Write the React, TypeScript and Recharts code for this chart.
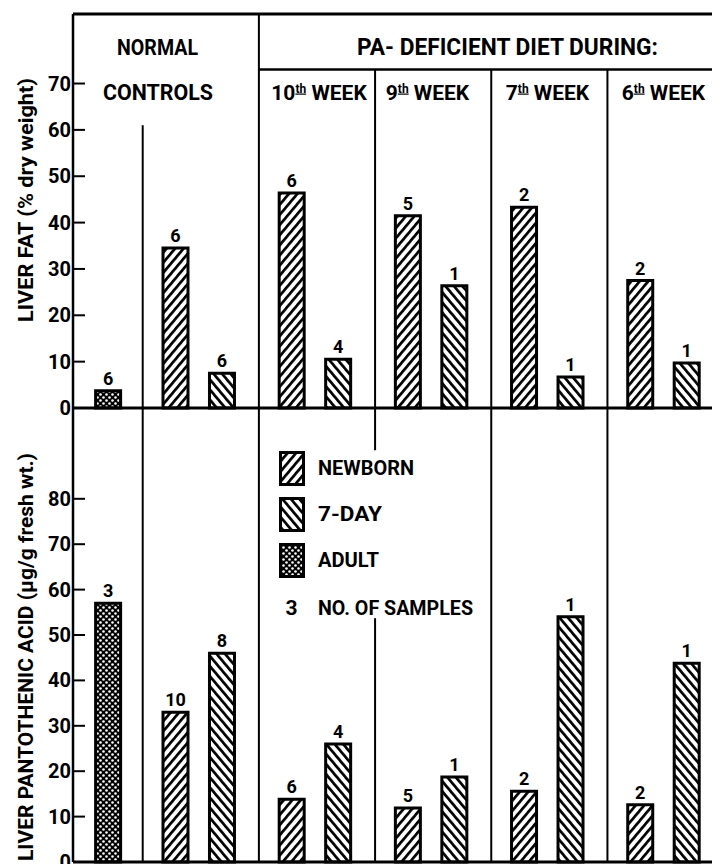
import React from 'react';
import { BarChart, Bar, XAxis, YAxis, ReferenceLine, LabelList, Legend } from 'recharts';

// column groups (controls + PA-deficient weeks)
const weekLabels = ['10', '9', '7', '6'];

// liver fat, % dry weight
const fatAdult = 3.7;
const fatAdultN = 6;
const fatNewborn = [34.5, 46.4, 41.5, 43.3, 27.5];
const fatNewbornN = [6, 6, 5, 2, 2];
const fatSevenDay = [7.5, 10.5, 26.4, 6.7, 9.7];
const fatSevenDayN = [6, 4, 1, 1, 1];

// liver pantothenic acid, ug/g fresh wt.
const paAdult = 57;
const paAdultN = 3;
const paNewborn = [33, 13.8, 11.9, 15.6, 12.6];
const paNewbornN = [10, 6, 5, 2, 2];
const paSevenDay = [46, 26, 18.7, 54, 43.8];
const paSevenDayN = [8, 4, 1, 1, 1];

const fatTicks = [0, 10, 20, 30, 40, 50, 60, 70];
const paTicks = [0, 10, 20, 30, 40, 50, 60, 70, 80];

const FONT = "Roboto, 'DejaVu Sans', sans-serif";
const X_MAX = 27.5;

const buildRows = (
  adult: number,
  adultN: number,
  newborn: number[],
  newbornN: number[],
  seven: number[],
  sevenN: number[]
) => {
  const rows: any[] = [{ x: 1.5, adult, adultN }];
  newborn.forEach((v, i) => {
    const start = 3 + 5 * i;
    rows.push({ x: start + 1.4, newborn: v, newbornN: newbornN[i] });
    rows.push({ x: start + 3.4, seven: seven[i], sevenN: sevenN[i] });
  });
  return rows;
};

const fatData = buildRows(fatAdult, fatAdultN, fatNewborn, fatNewbornN, fatSevenDay, fatSevenDayN);
const paData = buildRows(paAdult, paAdultN, paNewborn, paNewbornN, paSevenDay, paSevenDayN);
const xTicks = fatData.map((d) => d.x);

const Patterns = () => (
  <defs>
    <pattern id="hatchNewborn" width="6.5" height="6.5" patternUnits="userSpaceOnUse" patternTransform="rotate(40)">
      <rect width="6.5" height="6.5" fill="#fff" />
      <rect width="2.7" height="6.5" fill="#000" />
    </pattern>
    <pattern id="hatchSeven" width="6.5" height="6.5" patternUnits="userSpaceOnUse" patternTransform="rotate(-40)">
      <rect width="6.5" height="6.5" fill="#fff" />
      <rect width="2.7" height="6.5" fill="#000" />
    </pattern>
    <pattern id="dotsAdult" width="6" height="6" patternUnits="userSpaceOnUse">
      <rect width="6" height="6" fill="#000" />
      <circle cx="1.5" cy="1.5" r="1.3" fill="#fff" />
      <circle cx="4.5" cy="4.5" r="1.3" fill="#fff" />
    </pattern>
  </defs>
);

const YTick = (props: any) => {
  const { x, y, payload } = props;
  return (
    <g>
      {payload.value !== 0 && <line x1={x} x2={x + 12} y1={y} y2={y} stroke="#000" strokeWidth={2} />}
      <text x={x - 2} y={y + 7} textAnchor="end" fontFamily={FONT} fontWeight={700} fontSize={20} fill="#000">
        {payload.value}
      </text>
    </g>
  );
};

const labelStyle = { fontFamily: FONT, fontWeight: 700, fontSize: 18, fill: '#000' };

const series = [
  { key: 'newborn', name: 'NEWBORN', fill: 'url(#hatchNewborn)', len: 96 },
  { key: 'seven', name: '7-DAY', fill: 'url(#hatchSeven)', len: 64 },
  { key: 'adult', name: 'ADULT', fill: 'url(#dotsAdult)', len: 61 },
];

const renderBars = () =>
  series.map((s) => (
    <Bar
      key={s.key}
      dataKey={s.key}
      name={s.name}
      stackId="s"
      fill={s.fill}
      stroke="#000"
      strokeWidth={3}
      barSize={25}
      isAnimationActive={false}
    >
      <LabelList dataKey={`${s.key}N`} position="top" offset={6} style={labelStyle} />
    </Bar>
  ));

const textProps = {
  fontFamily: FONT,
  fontWeight: 700,
  fill: '#000',
  lengthAdjust: 'spacingAndGlyphs' as const,
};

// legend drawn in the order of the series, plus the sample-count key
const LegendContent = () => (
  <svg width={200} height={172} style={{ display: 'block', overflow: 'visible' }}>
    {series.map((s, i) => (
      <g key={s.key} transform={`translate(0, ${i * 46})`}>
        <rect x={1.5} y={1.5} width={23} height={32} fill={s.fill} stroke="#000" strokeWidth={3} />
        <text {...textProps} x={39} y={24} fontSize={21} textLength={s.len}>
          {s.name}
        </text>
      </g>
    ))}
    <text {...textProps} x={12.5} y={164} fontSize={21} textAnchor="middle">3</text>
    <text {...textProps} x={39} y={164} fontSize={21} textLength={155}>NO. OF SAMPLES</text>
  </svg>
);

const weekCenters = [319, 427.5, 547.5, 663.5];

const App = () => (
  <div style={{ position: 'absolute', left: 0, top: 0, width: 712, height: 864, background: '#fff', overflow: 'hidden' }}>
    <style>{'.recharts-surface{overflow:visible}'}</style>
    <div style={{ position: 'absolute', left: 0, top: 0 }}>
      <BarChart width={712} height={410} data={fatData} margin={{ top: 14, right: 0, left: 0, bottom: 2 }}>
        <Patterns />
        <XAxis dataKey="x" type="number" domain={[0, X_MAX]} ticks={xTicks} hide />
        <YAxis
          type="number"
          domain={[0, 85]}
          ticks={fatTicks}
          width={73}
          axisLine={{ stroke: '#000', strokeWidth: 2.5 }}
          tickLine={false}
          tickSize={0}
          tickMargin={0}
          tick={<YTick />}
          interval={0}
          label={{
            content: () => (
              <text {...textProps} x={33} y={200} transform="rotate(-90 33 200)" textAnchor="middle" fontSize={21} textLength={244}>
                LIVER FAT (% dry weight)
              </text>
            ),
          }}
        />
        <ReferenceLine y={85} stroke="#000" strokeWidth={3} />
        <ReferenceLine y={0} stroke="#000" strokeWidth={3} />
        <ReferenceLine x={8} stroke="#000" strokeWidth={2} />
        <ReferenceLine segment={[{ x: 3, y: 61 }, { x: 3, y: 0 }]} stroke="#000" strokeWidth={2} />
        <ReferenceLine segment={[{ x: 8, y: 73 }, { x: X_MAX, y: 73 }]} stroke="#000" strokeWidth={2.5} />
        {[13, 18, 23].map((x) => (
          <ReferenceLine key={x} segment={[{ x, y: 73 }, { x, y: 0 }]} stroke="#000" strokeWidth={2} />
        ))}
        {renderBars()}
      </BarChart>
    </div>

    <div style={{ position: 'absolute', left: 0, top: 408 }}>
      <BarChart width={712} height={456} data={paData} margin={{ top: 0, right: 0, left: 0, bottom: 2 }}>
        <Patterns />
        <XAxis dataKey="x" type="number" domain={[0, X_MAX]} ticks={xTicks} hide />
        <YAxis
          type="number"
          domain={[0, 100]}
          ticks={paTicks}
          width={73}
          axisLine={{ stroke: '#000', strokeWidth: 2.5 }}
          tickLine={false}
          tickSize={0}
          tickMargin={0}
          tick={<YTick />}
          interval={0}
          label={{
            content: () => (
              <text {...textProps} x={33} y={45} transform="rotate(-90 33 45)" textAnchor="end" fontSize={21} textLength={408}>
                LIVER PANTOTHENIC ACID (µg/g fresh wt.)
              </text>
            ),
          }}
        />
        <ReferenceLine y={0} stroke="#000" strokeWidth={3} />
        <ReferenceLine x={3} stroke="#000" strokeWidth={2} />
        <ReferenceLine x={8} stroke="#000" strokeWidth={2} />
        <ReferenceLine segment={[{ x: 13, y: 100 }, { x: 13, y: 90.7 }]} stroke="#000" strokeWidth={2} />
        <ReferenceLine segment={[{ x: 13, y: 53.7 }, { x: 13, y: 0 }]} stroke="#000" strokeWidth={2} />
        <ReferenceLine x={18} stroke="#000" strokeWidth={2} />
        <ReferenceLine x={23} stroke="#000" strokeWidth={2} />
        {renderBars()}
        <Legend
          layout="vertical"
          align="center"
          verticalAlign="middle"
          content={<LegendContent />}
          wrapperStyle={{ left: 279, top: 43, width: 200 }}
        />
      </BarChart>
    </div>

    {/* column headers */}
    <svg width={712} height={110} style={{ position: 'absolute', left: 0, top: 0, pointerEvents: 'none' }}>
      <text {...textProps} x={157.5} y={55} textAnchor="middle" fontSize={22} textLength={81}>NORMAL</text>
      <text {...textProps} x={158} y={100} textAnchor="middle" fontSize={22} textLength={110}>CONTROLS</text>
      <text {...textProps} x={507.5} y={54.5} textAnchor="middle" fontSize={23} textLength={301}>
        PA- DEFICIENT DIET DURING:
      </text>
      {weekLabels.map((w, i) => (
        <text key={w} fontFamily={FONT} fontWeight={700} fill="#000" x={weekCenters[i]} y={99.5} textAnchor="middle" fontSize={21}>
          {w}
          <tspan fontSize={12} dy={-7} textDecoration="underline">th</tspan>
          <tspan dy={7}> WEEK</tspan>
        </text>
      ))}
    </svg>
  </div>
);

export default App;
